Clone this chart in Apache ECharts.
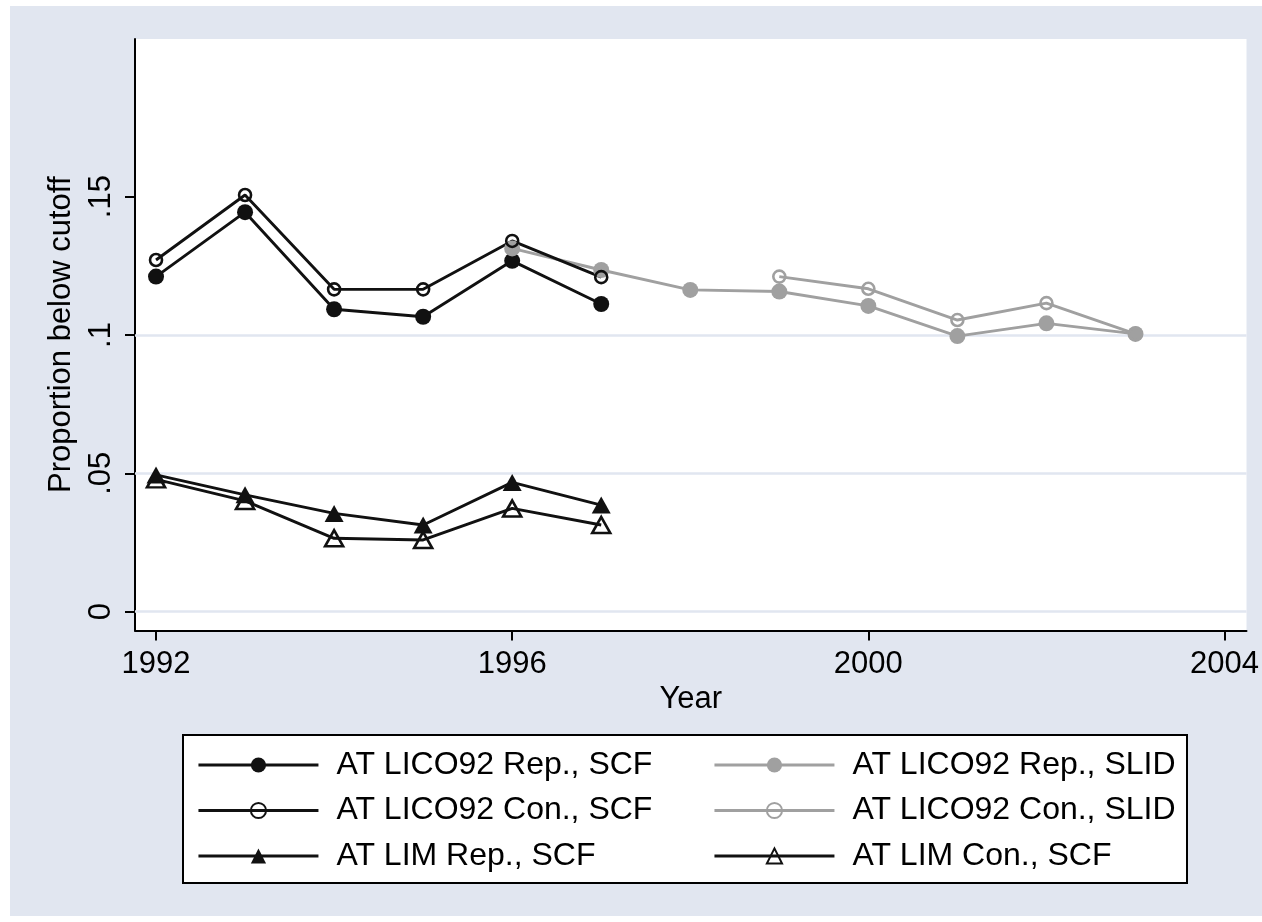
<!DOCTYPE html>
<html>
<head>
<meta charset="utf-8">
<script src="https://cdn.jsdelivr.net/npm/echarts@6/dist/echarts.min.js"></script>
<style>
html,body{margin:0;padding:0;background:#ffffff;}
#chart{width:1262px;height:922px;}
</style>
</head>
<body>
<div id="chart"></div>
<script>
// ---- data ----
const scfYears = [1992, 1993, 1994, 1995, 1996, 1997];
const slidRepYears = [1996, 1997, 1998, 1999, 2000, 2001, 2002, 2003];
const slidConYears = [1999, 2000, 2001, 2002, 2003];

const licoRepSCF = [0.1211, 0.1444, 0.1093, 0.1066, 0.1268, 0.1112];
const licoConSCF = [0.1271, 0.1506, 0.1165, 0.1165, 0.1340, 0.1209];
const licoRepSLID = [0.1313, 0.1235, 0.1163, 0.1157, 0.1105, 0.0996, 0.1042, 0.1004];
const licoConSLID = [0.1211, 0.1167, 0.1054, 0.1115, 0.1004];
const limRepSCF = [0.0494, 0.0422, 0.0355, 0.0313, 0.0467, 0.0385];
const limConSCF = [0.0478, 0.0400, 0.0265, 0.0259, 0.0373, 0.0313];

const xTicks = [1992, 1996, 2000, 2004];
const yTicks = [0, 0.05, 0.1, 0.15];
const gridValues = [0, 0.05, 0.1];

const seriesNames = [
  'AT LICO92 Rep., SCF', 'AT LICO92 Rep., SLID',
  'AT LICO92 Con., SCF', 'AT LICO92 Con., SLID',
  'AT LIM Rep., SCF', 'AT LIM Con., SCF'
];

function pairs(xs, ys) { return xs.map((x, i) => [x, ys[i]]); }

const BLACK = '#111111';
const GRAY = '#a0a0a0';
const BG = '#e1e6f0';
const FONT = 'Liberation Sans, Arial, sans-serif';
const FS = 31;
const LW = 2.9;

function mkSeries(name, xs, ys, color, symbol, size, hollow) {
  return {
    name: name,
    type: 'line',
    data: pairs(xs, ys),
    symbol: symbol,
    symbolSize: size,
    showSymbol: true,
    lineStyle: { color: color, width: LW },
    itemStyle: hollow
      ? { color: 'rgba(0,0,0,0)', borderColor: color, borderWidth: 2.6 }
      : { color: color, borderWidth: 0 },
    emphasis: { disabled: true },
    animation: false
  };
}

const series = [
  mkSeries(seriesNames[0], scfYears, licoRepSCF, BLACK, 'circle', 16, false),
  mkSeries(seriesNames[1], slidRepYears, licoRepSLID, GRAY, 'circle', 16, false),
  mkSeries(seriesNames[2], scfYears, licoConSCF, BLACK, 'circle', 12, true),
  mkSeries(seriesNames[3], slidConYears, licoConSLID, GRAY, 'circle', 12, true),
  mkSeries(seriesNames[4], scfYears, limRepSCF, BLACK, 'triangle', [19, 17], false),
  mkSeries(seriesNames[5], scfYears, limConSCF, BLACK, 'triangle', [18, 16], true)
];
series[0].markLine = {
  silent: true,
  symbol: 'none',
  z: 1,
  label: { show: false },
  lineStyle: { color: BG, width: 2.5, type: 'solid' },
  emphasis: { disabled: true },
  data: gridValues.map(v => ({ yAxis: v }))
};

const chart = echarts.init(document.getElementById('chart'), null, { renderer: 'canvas' });

const legendCommon = {
  orient: 'vertical',
  padding: 0,
  itemWidth: 120,
  itemHeight: 19,
  itemGap: 13.5,
  selectedMode: false,
  lineStyle: { width: LW },
  textStyle: { fontFamily: FONT, fontSize: 32, color: '#000', lineHeight: 32, padding: [0, 0, 0, 13] }
};

chart.setOption({
  backgroundColor: '#ffffff',
  animation: false,
  textStyle: { fontFamily: FONT },
  graphic: [
    { type: 'rect', z: -10, silent: true, shape: { x: 10, y: 6, width: 1252, height: 910 }, style: { fill: BG } },
    { type: 'rect', z: 0, silent: true, shape: { x: 183, y: 735, width: 1004, height: 148 }, style: { fill: '#ffffff', stroke: '#000000', lineWidth: 2 } }
  ],
  grid: {
    left: 135, right: 15, top: 39, bottom: 291.5,
    show: true, backgroundColor: '#ffffff', borderWidth: 0
  },
  xAxis: {
    type: 'value',
    min: 1991.764, max: 2004.247,
    name: 'Year',
    nameLocation: 'middle',
    nameGap: 52,
    nameTextStyle: { fontFamily: FONT, fontSize: FS, color: '#000' },
    axisLine: { show: true, onZero: false, lineStyle: { color: '#000', width: 2 } },
    axisTick: { show: true, inside: false, length: 10, customValues: xTicks, lineStyle: { color: '#000', width: 2 } },
    axisLabel: { customValues: xTicks, fontFamily: FONT, fontSize: FS, color: '#000', margin: 18, formatter: v => String(v) },
    splitLine: { show: false }
  },
  yAxis: {
    type: 'value',
    min: -0.00683, max: 0.2070,
    name: 'Proportion below cutoff',
    nameLocation: 'middle',
    nameRotate: 90,
    nameGap: 58,
    nameTextStyle: { fontFamily: FONT, fontSize: FS, color: '#000' },
    axisLine: { show: true, onZero: false, lineStyle: { color: '#000', width: 2 } },
    axisTick: { show: true, inside: false, length: 10, customValues: yTicks, lineStyle: { color: '#000', width: 2 } },
    axisLabel: {
      customValues: yTicks, rotate: 90, fontFamily: FONT, fontSize: FS, color: '#000', margin: 18,
      formatter: v => (v === 0 ? '0' : String(+v.toFixed(4)).replace(/^0\./, '.'))
    },
    splitLine: { show: false }
  },
  legend: [
    Object.assign({}, legendCommon, { left: 197, top: 749, data: [seriesNames[0], seriesNames[2], seriesNames[4]] }),
    Object.assign({}, legendCommon, { left: 713, top: 749, data: [seriesNames[1], seriesNames[3], seriesNames[5]] })
  ],
  series: series
});
</script>
</body>
</html>
